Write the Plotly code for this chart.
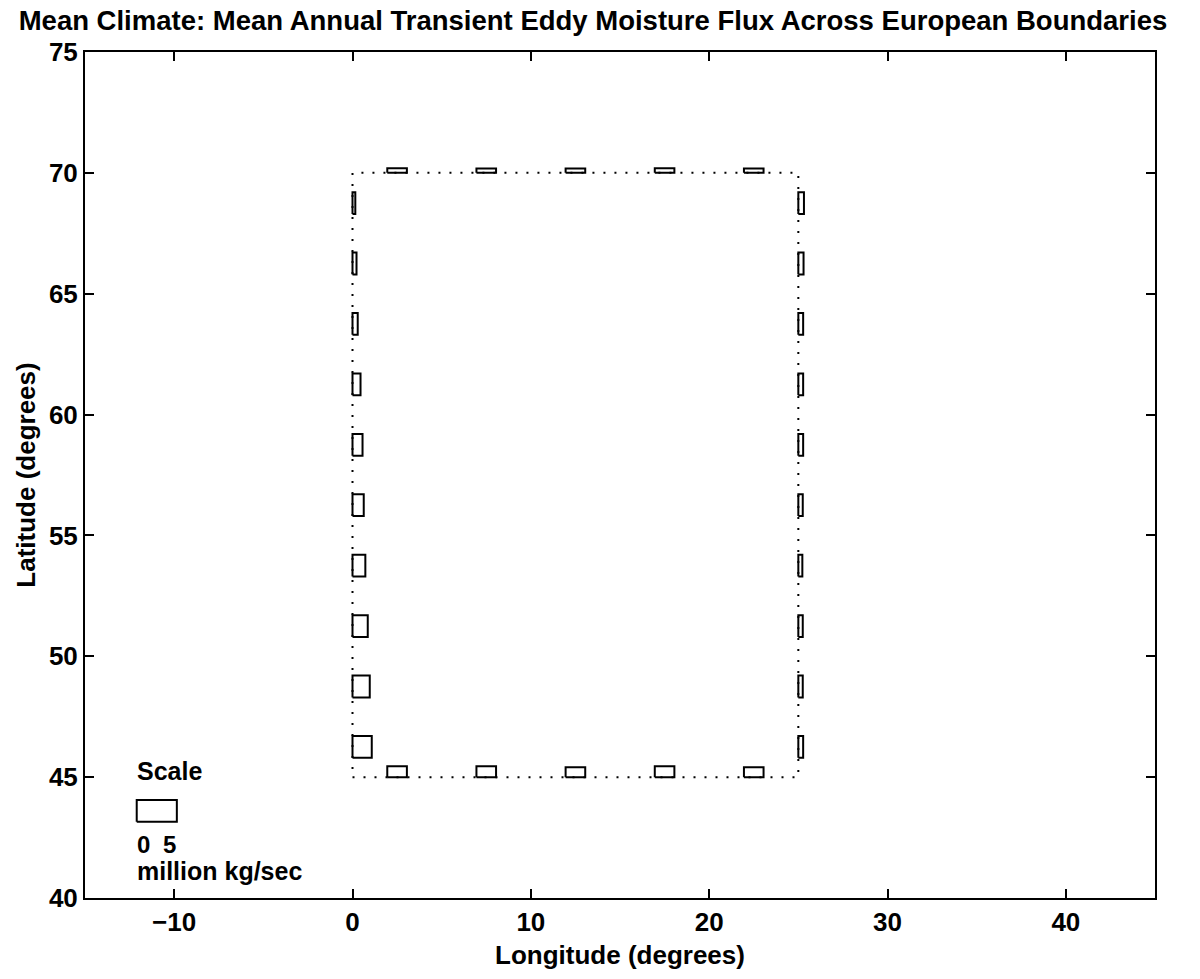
import plotly.graph_objects as go

# Segment midpoints along the boundaries of the European box
lat_centers = [46.25, 48.75, 51.25, 53.75, 56.25, 58.75, 61.25, 63.75, 66.25, 68.75]
lon_centers = [2.5, 7.5, 12.5, 17.5, 22.5]

# Mean annual transient eddy moisture flux (million kg/sec), eastward / northward positive
west_flux = [2.4, 2.15, 1.9, 1.6, 1.4, 1.25, 1.0, 0.65, 0.5, 0.35]
east_flux = [0.6, 0.55, 0.55, 0.5, 0.55, 0.6, 0.6, 0.6, 0.65, 0.7]
south_flux = [1.0, 1.0, 0.9, 1.0, 0.9]
north_flux = [0.42, 0.40, 0.40, 0.42, 0.40]

# Region boundary (degrees)
lon_west, lon_east = 0, 25
lat_south, lat_north = 45, 70

# Scale key
scale_value = 5
scale_origin = (-12.1, 43.15)

# Drawing parameters: degrees per million kg/sec, and box extent along a boundary
deg_per_unit = 0.45
seg_lat = 0.9
seg_lon = 1.1

FONT = "Liberation Sans, Arial, Helvetica, sans-serif"


def boxes_vertical(lon0, centers, flux):
    xs, ys = [], []
    for c, f in zip(centers, flux):
        x1 = lon0 + f * deg_per_unit
        y0, y1 = c - seg_lat / 2, c + seg_lat / 2
        xs += [lon0, x1, x1, lon0, lon0, None]
        ys += [y0, y0, y1, y1, y0, None]
    return xs, ys


def boxes_horizontal(lat0, centers, flux):
    xs, ys = [], []
    for c, f in zip(centers, flux):
        y1 = lat0 + f * deg_per_unit
        x0, x1 = c - seg_lon / 2, c + seg_lon / 2
        xs += [x0, x1, x1, x0, x0, None]
        ys += [lat0, lat0, y1, y1, lat0, None]
    return xs, ys


fig = go.Figure()

# dotted outline of the region
fig.add_trace(go.Scatter(
    x=[lon_west, lon_east, lon_east, lon_west, lon_west],
    y=[lat_south, lat_south, lat_north, lat_north, lat_south],
    mode="lines", line=dict(color="black", width=2, dash="2px,9px"),
    hoverinfo="skip", showlegend=False,
))

box_line = dict(color="black", width=2)
for xs, ys in [
    boxes_vertical(lon_west, lat_centers, west_flux),
    boxes_vertical(lon_east, lat_centers, east_flux),
    boxes_horizontal(lat_south, lon_centers, south_flux),
    boxes_horizontal(lat_north, lon_centers, north_flux),
]:
    fig.add_trace(go.Scatter(x=xs, y=ys, mode="lines", line=box_line,
                             hoverinfo="skip", showlegend=False))

# scale key box
sx0, sy0 = scale_origin
sx1 = sx0 + scale_value * deg_per_unit
sy1 = sy0 + seg_lat
fig.add_trace(go.Scatter(
    x=[sx0, sx1, sx1, sx0, sx0], y=[sy0, sy0, sy1, sy1, sy0],
    mode="lines", line=box_line, hoverinfo="skip", showlegend=False,
))

txt = dict(size=25, color="black", family=FONT, weight="bold")
key_txt = dict(size=24, color="black", family=FONT, weight="bold")
fig.add_annotation(x=sx0, y=45.25, text="Scale", showarrow=False,
                   xanchor="left", yanchor="middle", font=txt, xshift=-2)
fig.add_annotation(x=sx0, y=42.2, text="0", showarrow=False,
                   xanchor="left", yanchor="middle", font=key_txt, xshift=-2)
fig.add_annotation(x=sx1, y=42.2, text=str(scale_value), showarrow=False,
                   xanchor="right", yanchor="middle", font=key_txt, xshift=1)
fig.add_annotation(x=sx0, y=41.1, text="million kg/sec", showarrow=False,
                   xanchor="left", yanchor="middle", font=txt, xshift=-2)

fig.update_layout(
    width=1200, height=979,
    margin=dict(l=85, r=45, t=52, b=81),
    paper_bgcolor="white", plot_bgcolor="white",
    font=txt,
    title=dict(
        text="Mean Climate: Mean Annual Transient Eddy Moisture Flux Across European Boundaries",
        x=593 / 1200, xanchor="center", xref="container",
        y=1 - 20 / 979, yanchor="middle", yref="container",
        font=dict(size=27.5, family=FONT, weight="bold", color="black"),
    ),
)

axis_common = dict(
    showgrid=False, zeroline=False,
    showline=True, linecolor="black", linewidth=2, mirror="ticks",
    ticks="inside", ticklen=9, tickwidth=2, tickcolor="black",
    tickfont=dict(size=26, family=FONT, weight="bold", color="black"),
)
fig.update_xaxes(range=[-15, 45], tickvals=[-10, 0, 10, 20, 30, 40],
                 title=dict(text="Longitude (degrees)", standoff=10,
                            font=dict(size=26, family=FONT, weight="bold")),
                 **axis_common)
fig.update_yaxes(range=[40, 75], tickvals=[40, 45, 50, 55, 60, 65, 70, 75],
                 title=dict(text="Latitude (degrees)", standoff=6,
                            font=dict(size=26, family=FONT, weight="bold")),
                 **axis_common)

fig.write_html("out.html")
